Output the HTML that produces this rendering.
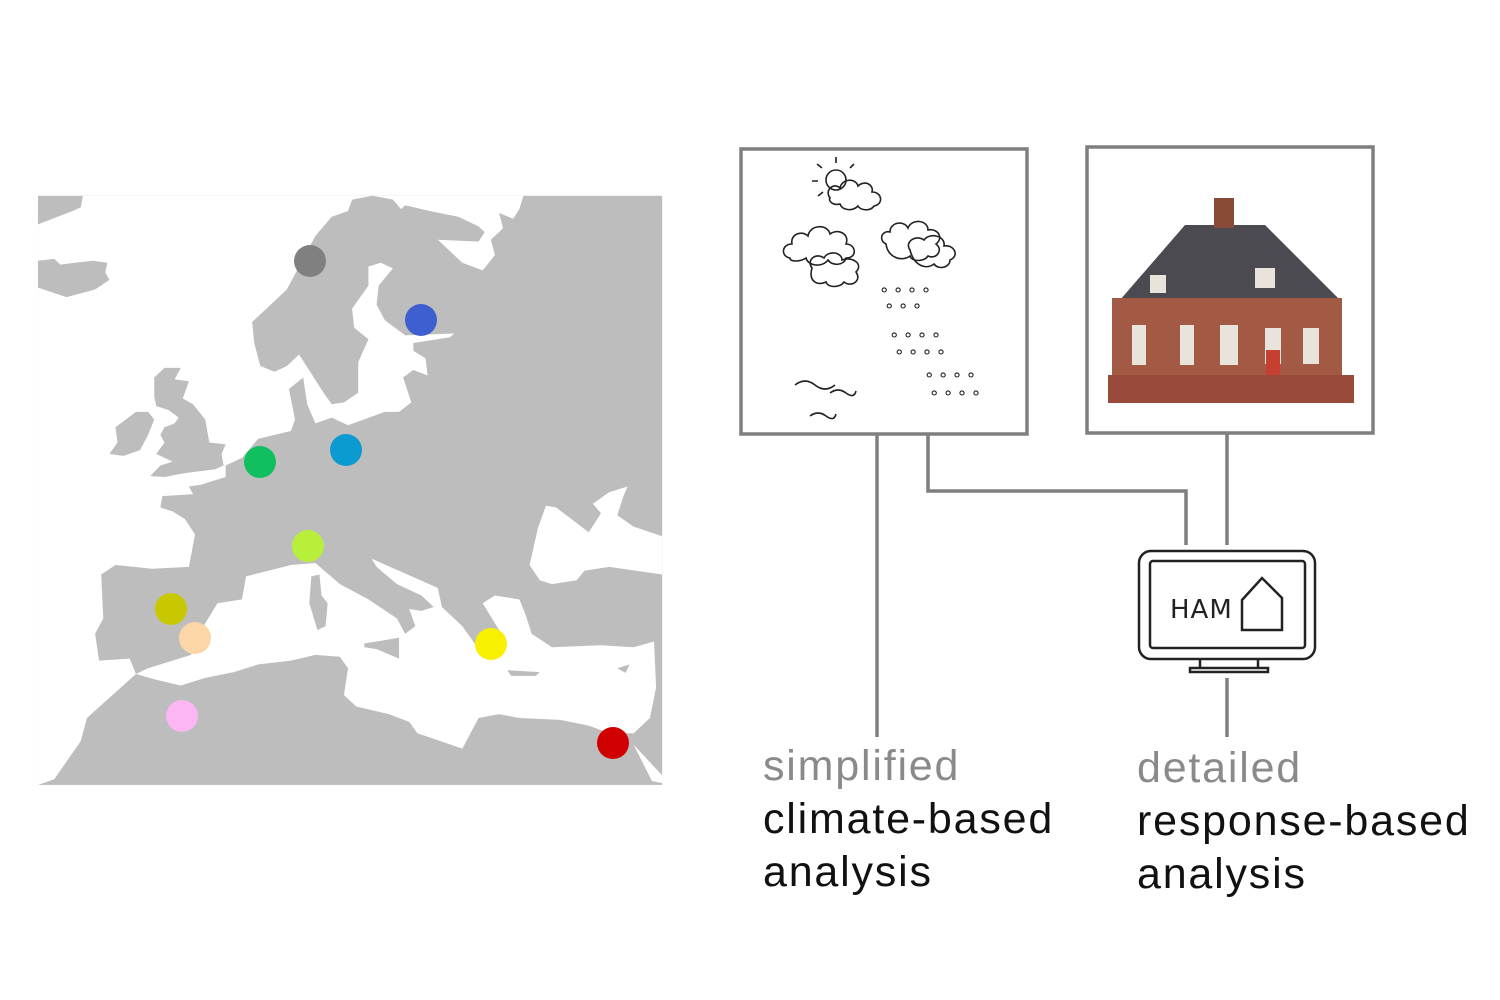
<!DOCTYPE html>
<html><head><meta charset="utf-8"><style>
body{margin:0;background:#fff;width:1500px;height:1000px;overflow:hidden;position:relative;font-family:"Liberation Sans",sans-serif}
.t{position:absolute;font-size:43px;line-height:53px;color:#111;letter-spacing:1.8px}
.g{color:#8a8a8a}
</style></head><body>
<svg width="1500" height="1000" style="position:absolute;left:0;top:0">
<g transform="translate(29.8,190) scale(0.408,0.3826)">
<rect x="20" y="15" width="1530" height="1540" fill="#bdbdbd"/>
<g fill="#fff">
<polygon points="20,90 105,55 125,45 130,15 1210,15 1200,50 1185,75 1150,60 1160,100 1130,130 1140,170 1110,210 1060,190 1000,130 1100,135 1115,110 1100,95 1050,70 980,55 920,40 910,50 890,25 840,15 790,25 780,55 740,70 700,120 660,200 630,260 580,310 545,345 550,400 565,460 600,475 630,460 660,430 690,480 720,530 740,560 770,555 805,530 805,450 830,390 795,360 790,310 830,250 830,200 860,190 890,205 855,250 850,300 870,340 920,380 1040,375 1030,385 940,400 940,420 970,440 975,485 940,470 915,490 935,555 905,580 870,580 780,615 740,595 700,610 680,560 670,490 635,520 650,600 640,630 600,640 560,650 520,700 480,720 480,750 420,770 390,775 400,795 325,800 320,830 350,840 380,860 405,900 390,985 300,990 210,980 175,1005 180,1120 160,1160 170,1230 245,1225 260,1265 140,1380 125,1440 60,1540 20,1555 20,255 90,280 160,260 195,235 185,215 190,190 155,185 110,190 75,195 60,180 20,185"/>
<polygon points="260,1265 290,1250 395,1215 420,1150 460,1080 520,1070 530,1010 640,980 700,975 790,905 830,960 1000,1040 1010,1090 1060,1140 1100,1200 1130,1210 1150,1150 1110,1080 1140,1060 1200,1070 1215,1110 1230,1160 1280,1195 1400,1190 1480,1195 1530,1180 1535,1300 1520,1380 1480,1420 1420,1420 1370,1400 1300,1385 1200,1380 1150,1370 1100,1380 1070,1440 1060,1460 950,1420 930,1390 880,1370 800,1350 770,1320 780,1250 760,1220 700,1215 640,1230 560,1240 500,1260 430,1275 370,1295 310,1280"/>
<polygon points="1245,885 1265,825 1290,830 1340,870 1370,895 1400,845 1380,820 1420,790 1465,775 1455,800 1440,850 1480,880 1550,905 1550,1005 1420,985 1360,995 1340,1020 1280,1030 1250,1020 1225,980"/>
<polygon points="1480,1450 1550,1530 1550,1550 1525,1545"/>
</g>
<g fill="#bdbdbd">
<polygon points="305,490 330,465 370,465 355,495 390,500 375,545 400,560 430,600 440,660 480,665 470,690 475,720 455,730 380,740 330,750 295,748 320,720 350,710 310,690 330,660 320,640 330,620 355,610 365,595 340,575 310,565 305,540"/>
<polygon points="210,620 260,580 290,580 305,600 290,640 270,680 230,695 195,690 215,660"/>
<polygon points="700,975 760,1030 830,1070 900,1120 920,1160 945,1140 930,1095 960,1100 990,1090 960,1060 900,1030 850,985 830,950 800,900 700,900"/>
<polygon points="690,1010 710,1005 715,1060 730,1080 725,1140 705,1150 685,1080"/>
<polygon points="820,1185 880,1175 905,1170 905,1225 850,1200 820,1195"/>
<polygon points="1170,1255 1250,1260 1240,1270 1180,1270"/>
<polygon points="1440,1250 1470,1240 1460,1262"/>
</g>
</g>
<circle cx="310" cy="261" r="16" fill="#808080"/>
<circle cx="421" cy="320" r="16" fill="#3e5fcf"/>
<circle cx="260" cy="462" r="16" fill="#10c060"/>
<circle cx="346" cy="450" r="16" fill="#0c9bd1"/>
<circle cx="308" cy="546" r="16" fill="#b8ef3a"/>
<circle cx="171" cy="609" r="16" fill="#c8c800"/>
<circle cx="195" cy="638" r="16" fill="#fcd6a6"/>
<circle cx="491" cy="644" r="16" fill="#f8f000"/>
<circle cx="182" cy="716" r="16" fill="#fcb6f4"/>
<circle cx="613" cy="743" r="16" fill="#d00000"/>
<g fill="none" stroke="#7f7f7f" stroke-width="3.5">
<rect x="741" y="149" width="286" height="285"/>
<rect x="1087" y="147" width="286" height="286"/>
<polyline points="877,435 877,737"/>
<polyline points="928,435 928,491 1186,491 1186,545"/>
<polyline points="1227,434 1227,545"/>
<polyline points="1227,678 1227,737"/>
</g>
<g fill="none" stroke="#222" stroke-width="1.6">
<circle cx="836" cy="180" r="10"/>
<path d="M836 163v-6M822 168l-5-4M818 181h-6M850 168l4-4M823 192l-5 4"/>
<path d="M830 198c-6-8 4-16 10-10c2-10 16-10 18-2c6-6 16-2 14 6c10 0 12 12 2 14c-4 6-14 4-16 0c-6 6-16 4-18-2c-8 2-12-4-10-6z"/>
<path d="M790 258c-10-2-8-14 2-14c-2-10 10-14 16-8c2-12 20-12 22-2c8-6 20 0 16 10c10 0 12 14 0 14c-2 8-14 8-18 2c-6 8-20 6-22-2c-6 4-16 4-16 0z"/>
<path d="M812 268c-6-8 4-16 12-10c4-8 18-6 18 2c10-4 22 4 14 12c6 8-4 16-12 10c-4 6-16 6-18 0c-8 4-18 0-14-14z"/>
<path d="M886 244c-8-4-4-14 4-12c0-10 14-12 18-4c4-10 20-8 20 2c10-2 16 8 8 14c8 6 0 16-8 12c-4 6-16 6-18 0c-8 6-22 2-24-12z"/>
<path d="M910 250c-6-8 6-16 14-10c6-8 22-4 20 6c10-2 16 10 6 14c0 8-12 10-16 4c-8 6-20 2-24-14z"/>
<path d="M795 385q10-8 20 0t20 0M830 393q8-6 16 0t10-2M810 416q8-6 16 0t10-2"/>
</g>
<g fill="#222" font-size="17" font-family="DejaVu Sans">
<text x="880" y="300">° ° ° °</text><text x="885" y="316">° ° °</text>
<text x="890" y="345">° ° ° °</text><text x="895" y="362">° ° ° °</text>
<text x="925" y="385">° ° ° °</text><text x="930" y="403">° ° ° °</text>
</g>
<polygon points="1120,300 1185,225 1265,225 1340,300" fill="#4a4a50"/>
<rect x="1214" y="198" width="20" height="30" fill="#8a4a38"/>
<rect x="1112" y="298" width="230" height="100" fill="#a35a45"/>
<rect x="1108" y="375" width="246" height="28" fill="#9a4a3a"/>
<g fill="#e8e4dc"><rect x="1132" y="325" width="14" height="40"/><rect x="1180" y="325" width="14" height="40"/><rect x="1220" y="325" width="18" height="40"/><rect x="1265" y="328" width="16" height="36"/><rect x="1303" y="328" width="16" height="36"/><rect x="1150" y="275" width="16" height="18"/><rect x="1255" y="268" width="20" height="20"/></g>
<rect x="1266" y="350" width="14" height="25" fill="#c54030"/>
<g fill="none" stroke="#222" stroke-width="2.5">
<rect x="1139" y="551" width="176" height="108" rx="12"/>
<rect x="1150" y="561" width="155" height="87" rx="3"/>
<path d="M1200 660v8M1258 660v8M1190 668h78v4h-78z"/>
<path d="M1242 630v-30l20-22l20 20v32z"/>
</g>
<text x="1170" y="618" font-size="26" fill="#222" font-family="DejaVu Sans" letter-spacing="1">HAM</text>
</svg>
<div class="t" style="left:763px;top:740px"><span class="g">simplified</span><br>climate-based<br>analysis</div>
<div class="t" style="left:1137px;top:742px"><span class="g">detailed</span><br>response-based<br>analysis</div>
</body></html>
